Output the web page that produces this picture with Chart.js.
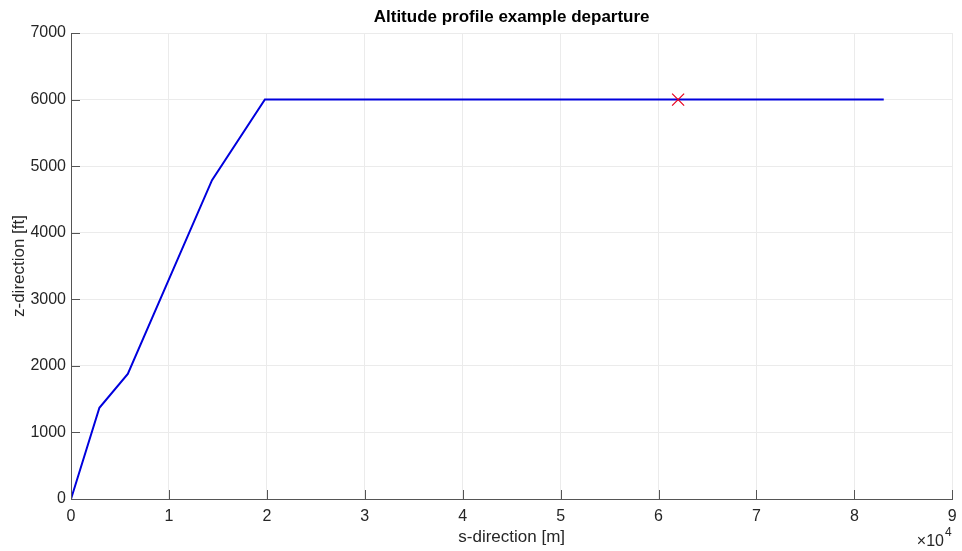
<!DOCTYPE html>
<html>
<head>
<meta charset="utf-8">
<script src="https://cdn.jsdelivr.net/npm/chart.js@4"></script>
<style>
  html, body { margin: 0; padding: 0; background: #fff; }
  #wrap { width: 962px; height: 551px; }
</style>
</head>
<body>
<div id="wrap"><canvas id="altChart" width="962" height="551"></canvas></div>
<script>
// profile (s in metres, z in feet)
const sValues = [0, 2900, 5800, 14400, 19800, 83000];
const zValues = [0, 1370, 1880, 4790, 6000, 6000];
const markerS = [62000];
const markerZ = [6000];
const xTicks = [0, 1, 2, 3, 4, 5, 6, 7, 8, 9];   // in units of 10^4 m
const yTicks = [0, 1000, 2000, 3000, 4000, 5000, 6000, 7000];
const chartTitle = 'Altitude profile example departure';

const FONT = "'Liberation Sans', Arial, Helvetica, sans-serif";
const TEXT = '#262626';

// title centred over the axes, small inward tick marks, x10^4 exponent label
const matlabBits = {
    id: 'matlabBits',
    afterDraw(chart) {
        const ctx = chart.ctx;
        const xs = chart.scales.x, ys = chart.scales.y;
        const a = chart.chartArea;
        ctx.save();
        ctx.strokeStyle = '#555';
        ctx.lineWidth = 1;
        ctx.beginPath();
        xs.ticks.forEach(t => {
            const px = Math.round(xs.getPixelForValue(t.value)) + 0.5;
            ctx.moveTo(px, a.bottom);
            ctx.lineTo(px, a.bottom - 9);
        });
        ys.ticks.forEach(t => {
            const py = Math.round(ys.getPixelForValue(t.value)) + 0.5;
            ctx.moveTo(a.left, py);
            ctx.lineTo(a.left + 9, py);
        });
        ctx.stroke();

        ctx.fillStyle = '#000';
        ctx.textAlign = 'center';
        ctx.textBaseline = 'middle';
        ctx.font = 'bold 17px ' + FONT;
        ctx.fillText(chartTitle, (a.left + a.right) / 2, 17);

        ctx.fillStyle = TEXT;
        ctx.textBaseline = 'alphabetic';
        ctx.textAlign = 'right';
        ctx.font = '16px ' + FONT;
        ctx.fillText('\u00d710', 944, 546);
        ctx.font = '12px ' + FONT;
        ctx.textAlign = 'left';
        ctx.fillText('4', 945, 536);
        ctx.restore();
    }
};

function initAltitudeChart() {
    const ctx = document.getElementById('altChart').getContext('2d');
    const profile = sValues.map((s, i) => ({ x: s, y: zValues[i] }));
    const marker = markerS.map((s, i) => ({ x: s, y: markerZ[i] }));

    new Chart(ctx, {
        type: 'scatter',
        data: {
            datasets: [{
                label: 'profile',
                data: profile,
                showLine: true,
                borderColor: '#0000dd',
                borderWidth: 2,
                pointRadius: 0,
                tension: 0,
                order: 2
            }, {
                label: 'marker',
                data: marker,
                showLine: false,
                pointStyle: 'crossRot',
                pointRadius: 8.5,
                borderColor: '#e8001c',
                borderWidth: 1.2,
                order: 1
            }]
        },
        options: {
            responsive: false,
            animation: false,
            layout: { padding: { left: 0, right: 7, top: 33, bottom: 0 } },
            plugins: {
                legend: { display: false },
                tooltip: { enabled: false },
                title: { display: false }
            },
            scales: {
                x: {
                    type: 'linear',
                    min: 0,
                    max: 90000,
                    afterBuildTicks: axis => {
                        axis.ticks = xTicks.map(v => ({ value: v * 10000 }));
                    },
                    ticks: {
                        color: TEXT,
                        font: { family: FONT, size: 16 },
                        padding: 8,
                        maxRotation: 0,
                        callback: v => String(v / 10000)
                    },
                    grid: { color: '#ebebeb', drawTicks: false },
                    border: { color: '#555', width: 1 },
                    title: {
                        display: true,
                        text: 's-direction [m]',
                        color: TEXT,
                        font: { family: FONT, size: 17 },
                        padding: { top: 3, bottom: 3 }
                    },
                    afterFit: axis => {
                        axis.height = 52;
                        axis.paddingLeft = 0;
                        axis.paddingRight = 0;
                    }
                },
                y: {
                    min: 0,
                    max: 7000,
                    afterBuildTicks: axis => {
                        axis.ticks = yTicks.map(v => ({ value: v }));
                    },
                    ticks: {
                        color: TEXT,
                        font: { family: FONT, size: 16 },
                        padding: 5,
                        callback: v => String(v)
                    },
                    grid: { color: '#ebebeb', drawTicks: false },
                    border: { color: '#555', width: 1 },
                    title: {
                        display: true,
                        text: 'z-direction [ft]',
                        color: TEXT,
                        font: { family: FONT, size: 17 },
                        padding: { top: 9, bottom: 4 }
                    },
                    afterFit: axis => {
                        axis.width = 71;
                        axis.paddingTop = 0;
                        axis.paddingBottom = 0;
                    }
                }
            }
        },
        plugins: [matlabBits]
    });
}

document.addEventListener('DOMContentLoaded', () => {
    initAltitudeChart();
});
</script>
</body>
</html>
